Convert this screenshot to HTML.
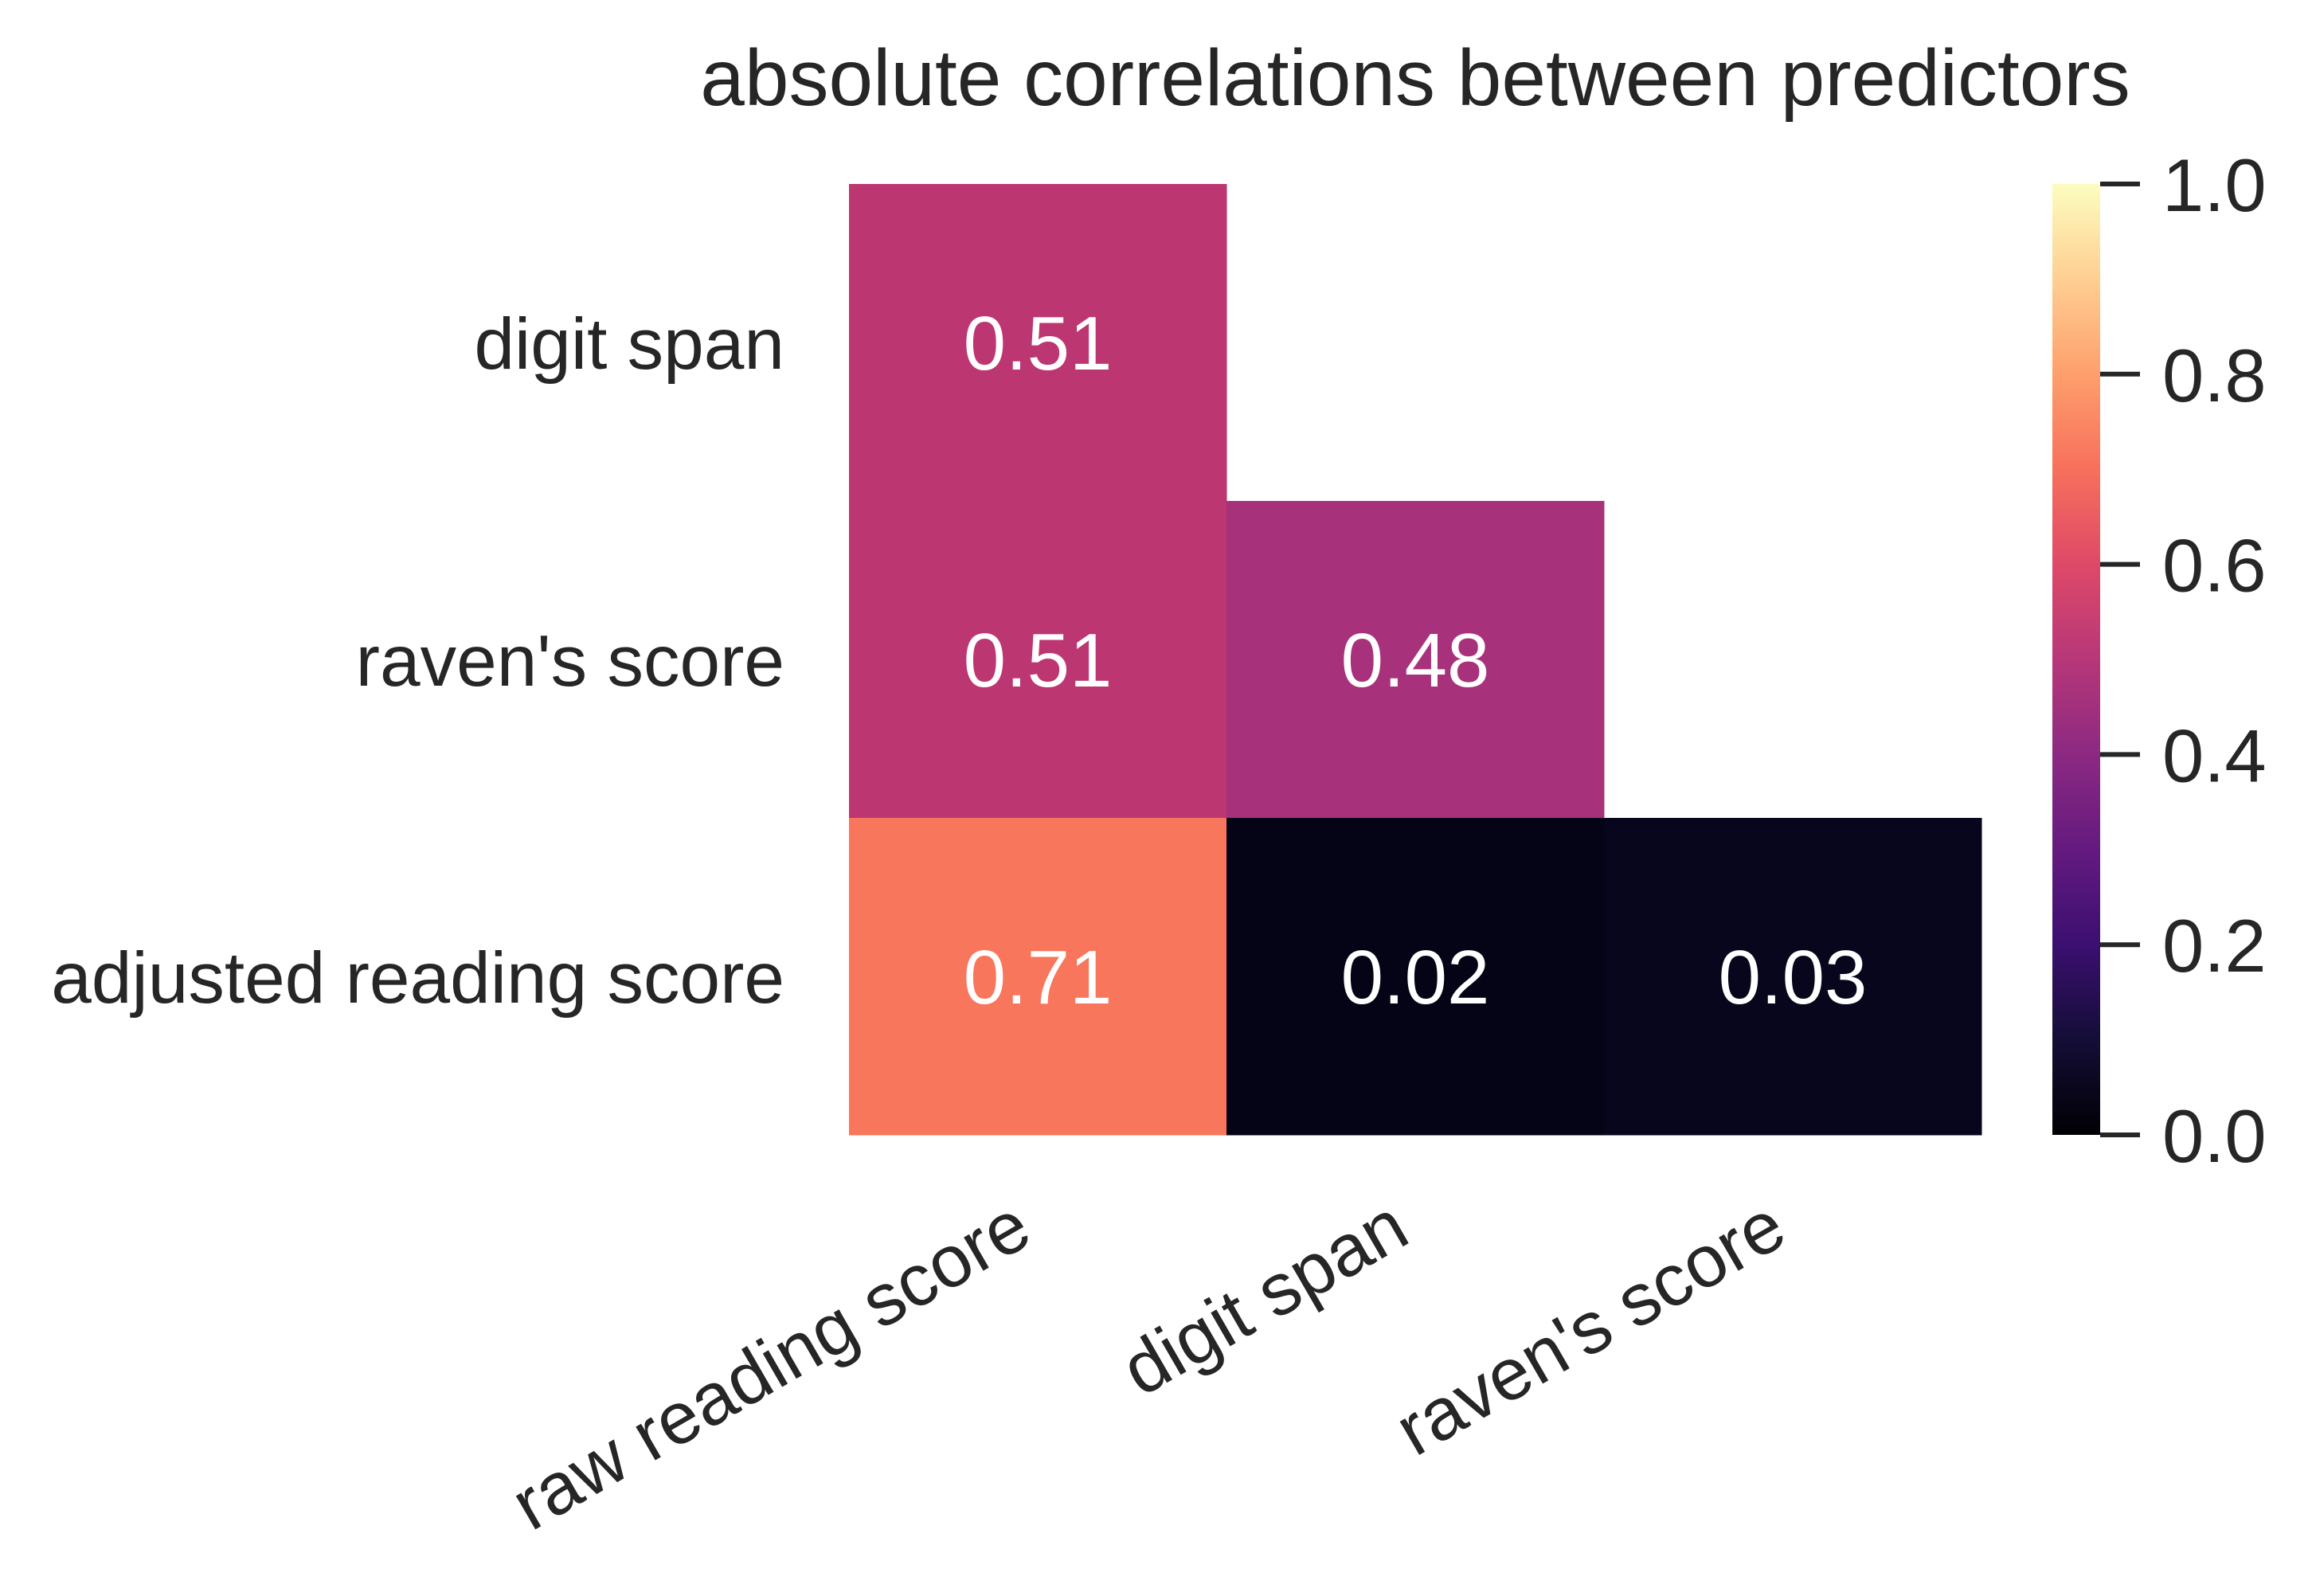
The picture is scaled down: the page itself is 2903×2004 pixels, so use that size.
<!DOCTYPE html>
<html><head><meta charset="utf-8"><style>
html,body{margin:0;padding:0;background:#fff;}
svg{display:block;font-family:"Liberation Sans",Arial,sans-serif;}
</style></head><body>
<svg id="chart" width="2903" height="2004" viewBox="0 0 2903 2004" xmlns="http://www.w3.org/2000/svg">
<defs>
<linearGradient id="magma" x1="0" y1="1" x2="0" y2="0">
<stop offset="0" stop-color="#000004"/>
<stop offset="0.1" stop-color="#140e36"/>
<stop offset="0.2" stop-color="#3b0f70"/>
<stop offset="0.3" stop-color="#641a80"/>
<stop offset="0.4" stop-color="#8c2981"/>
<stop offset="0.5" stop-color="#b73779"/>
<stop offset="0.6" stop-color="#de4968"/>
<stop offset="0.7" stop-color="#f7705c"/>
<stop offset="0.8" stop-color="#fe9f6d"/>
<stop offset="0.9" stop-color="#fecf92"/>
<stop offset="1" stop-color="#fcfdbf"/>
</linearGradient>
</defs>
<text x="1777" y="132" font-size="100" fill="#262626" text-anchor="middle">absolute correlations between predictors</text>
<g id="cells"></g>
<g id="ylabels"></g>
<g id="xlabels"></g>
<rect x="2577" y="231" width="60" height="1194" fill="url(#magma)"/>
<g id="cbticks"></g>
</svg>
<script>
const xCategories = ["raw reading score", "digit span", "raven's score"];
const yCategories = ["digit span", "raven's score", "adjusted reading score"];
const cellValues = [[0.51, null, null],[0.51, 0.48, null],[0.71, 0.02, 0.03]];
const cellColors = [["#bc3672", null, null],["#bc3672", "#a8317c", null],["#f8765c", "#050416", "#07061c"]];
const cbTickValues = [0, 0.2, 0.4, 0.6, 0.8, 1.0];
const cbTickLabels = ["0.0","0.2","0.4","0.6","0.8","1.0"];

const NS = "http://www.w3.org/2000/svg";
const gridLeft = 1066, gridTop = 231, cw = 474, ch = 398;
const cbTop = 231, cbBot = 1425;
function xPos(i){ return gridLeft + i*cw; }
function yPos(j){ return gridTop + j*ch; }
function cbY(v){ return cbBot - v*(cbBot-cbTop); }
function mk(tag, attrs, parent){ const e=document.createElementNS(NS,tag); for(const k in attrs) e.setAttribute(k,attrs[k]); parent.appendChild(e); return e; }

const cells = document.getElementById('cells');
cellValues.forEach((row,j)=>row.forEach((v,i)=>{
  if(v===null) return;
  const r = mk('rect',{x:xPos(i),y:yPos(j),width:cw+0.5,height:ch+0.5,fill:cellColors[j][i]},cells);
  
  
  const t = mk('text',{x:xPos(i)+cw/2,y:yPos(j)+ch/2+34,'font-size':96,fill:'#fff','text-anchor':'middle'},cells);
  
  
  t.textContent = v.toFixed(2);
}));

const yl = document.getElementById('ylabels');
yCategories.forEach((c,j)=>{
  const t = mk('text',{x:985,y:yPos(j)+ch/2+33,'font-size':91,fill:'#262626','text-anchor':'end'},yl);
  
  
  t.textContent = c;
});

const xl = document.getElementById('xlabels');
xCategories.forEach((c,i)=>{
  const x = xPos(i)+cw/2 - 3, y = 1558;
  const t = mk('text',{x:x,y:y,'font-size':92,fill:'#262626','text-anchor':'end',transform:`rotate(-30 ${x} ${y})`},xl);
  
  
  t.textContent = c;
});

const cb = document.getElementById('cbticks');
cbTickValues.forEach((v,k)=>{
  const y = cbY(v);
  const l = mk('line',{x1:2637,x2:2687,y1:y,y2:y,stroke:'#262626','stroke-width':6},cb);
  
  
  const t = mk('text',{x:2715,y:y+34,'font-size':94,fill:'#262626'},cb);
  
  
  t.textContent = cbTickLabels[k];
});
</script>
</body></html>
